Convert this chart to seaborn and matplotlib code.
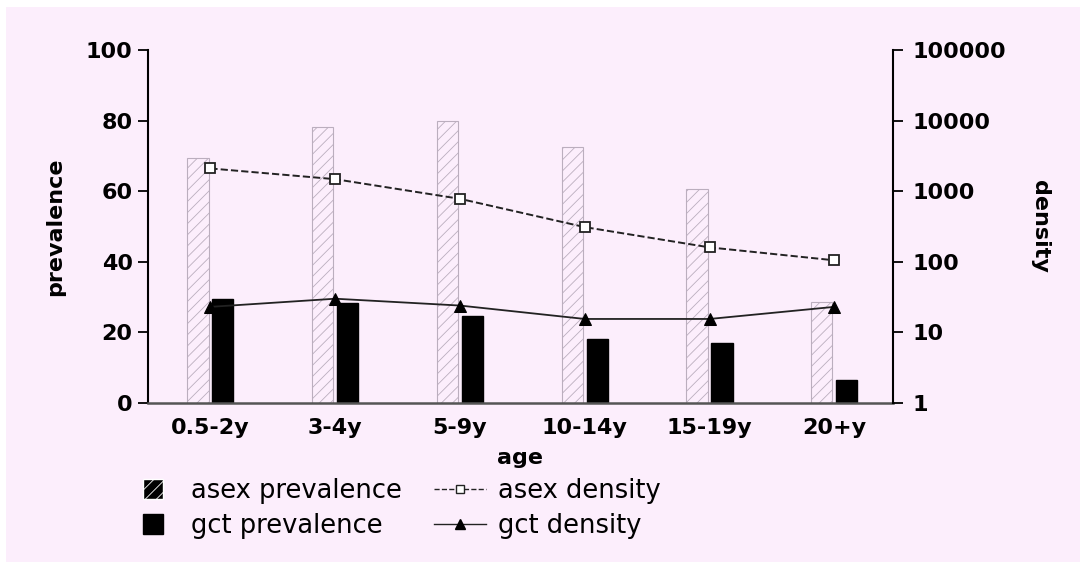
import numpy as np
import pandas as pd
import matplotlib
matplotlib.use("Agg")
import matplotlib.pyplot as plt
import seaborn as sns
from matplotlib.patches import Rectangle, Patch
from matplotlib.lines import Line2D
from matplotlib.legend_handler import HandlerPatch
from matplotlib.ticker import FixedLocator, NullLocator

# ---- data ----
ages = ["0.5-2y", "3-4y", "5-9y", "10-14y", "15-19y", "20+y"]
asex_prevalence = [69.3, 78.2, 80.0, 72.4, 60.5, 28.7]
gct_prevalence = [29.4, 28.4, 24.6, 18.0, 16.9, 6.5]
asex_density = [2100, 1480, 780, 310, 160, 105]
gct_density = [23, 30, 24, 15.5, 15.5, 23]
left_ticks = [0, 20, 40, 60, 80, 100]
right_ticks = [1, 10, 100, 1000, 10000, 100000]
right_tick_labels = ["1", "10", "100", "1000", "10000", "100000"]
series_names = ["asex prevalence", "gct prevalence"]

PINK = "#FCEEFC"
plt.rcParams["hatch.linewidth"] = 0.6
plt.rcParams["font.family"] = ["DejaVu Sans"]

df = pd.DataFrame({
    "age": ages * 2,
    "prevalence": asex_prevalence + gct_prevalence,
    "series": [series_names[0]] * len(ages) + [series_names[1]] * len(ages),
})

fig = plt.figure(figsize=(10.8, 5.62), dpi=100)
fig.patch.set_facecolor("white")
fig.add_artist(Rectangle((6 / 1080, 0), 1, 1 - 7 / 562, transform=fig.transFigure,
                         facecolor=PINK, edgecolor="none", zorder=-10))

ax = fig.add_axes([148 / 1080, 1 - 403 / 562, 745 / 1080, 353 / 562])
ax.set_facecolor("none")

sns.barplot(data=df, x="age", y="prevalence", hue="series", order=ages,
            hue_order=series_names, palette={series_names[0]: PINK, series_names[1]: "black"},
            saturation=1, width=0.4, gap=0.15, errorbar=None, legend=False, ax=ax)

for p in ax.containers[0]:
    p.set_hatch("///")
    p.set_edgecolor("#BBAEBE")
    p.set_linewidth(0.8)
for p in ax.containers[1]:
    p.set_edgecolor("black")

ax.set_xlim(-0.5, 5.47)
ax.set_ylim(0, 100)
ax.yaxis.set_major_locator(FixedLocator(left_ticks))
ax.set_yticklabels([str(t) for t in left_ticks])
for s in ["top", "right"]:
    ax.spines[s].set_visible(False)
ax.spines["left"].set_linewidth(1.5)
ax.spines["bottom"].set_linewidth(1.8)
ax.spines["bottom"].set_color("#555555")
ax.tick_params(axis="x", length=0, pad=11, labelsize=16)
ax.tick_params(axis="y", length=7, width=1.3, pad=4, labelsize=16)
for lbl in ax.get_xticklabels() + ax.get_yticklabels():
    lbl.set_fontweight("bold")
ax.set_xlabel("age", fontsize=16, fontweight="bold", labelpad=7)
ax.set_ylabel("prevalence", fontsize=16, fontweight="bold", labelpad=15)

ax2 = ax.twinx()
ax2.set_facecolor("none")
x_pos = np.arange(len(ages))
sns.lineplot(x=x_pos, y=asex_density, ax=ax2, color="#222222", linestyle="--", lw=1.4,
             marker="s", markersize=7, markerfacecolor="white", markeredgecolor="#222222",
             markeredgewidth=1.3, sort=False)
sns.lineplot(x=x_pos, y=gct_density, ax=ax2, color="#222222", linestyle="-", lw=1.3,
             marker="^", markersize=8, markerfacecolor="black", markeredgecolor="black",
             sort=False)
ax2.set_yscale("log")
ax2.set_ylim(1, 1e5)
ax2.set_xlim(-0.5, 5.47)
ax2.yaxis.set_major_locator(FixedLocator(right_ticks))
ax2.yaxis.set_minor_locator(NullLocator())
ax2.set_yticklabels(right_tick_labels)
for s in ["top", "left", "bottom"]:
    ax2.spines[s].set_visible(False)
ax2.spines["right"].set_linewidth(1.5)
ax2.tick_params(axis="y", which="major", length=7, width=1.3, pad=7, labelsize=16)
for lbl in ax2.get_yticklabels():
    lbl.set_fontweight("bold")
ax2.set_ylabel("density", fontsize=16, fontweight="bold", rotation=270, va="bottom", labelpad=17)


def square_patch(legend, orig_handle, xdescent, ydescent, width, height, fontsize):
    s = 14.4
    cx = -xdescent + width / 2
    cy = -ydescent + height / 2
    return Rectangle((cx - s / 2, cy - s / 2), s, s)


handles = [
    Patch(facecolor="black", edgecolor="white", hatch="///", label="asex prevalence"),
    Patch(facecolor="black", edgecolor="black", label="gct prevalence"),
    Line2D([], [], color="#222222", ls="--", lw=1, marker="s", markersize=6,
           markerfacecolor="white", markeredgecolor="#222222", label="asex density"),
    Line2D([], [], color="#222222", ls="-", lw=1, marker="^", markersize=7,
           markerfacecolor="black", markeredgecolor="black", label="gct density"),
]
fig.legend(handles=handles, loc="upper left", bbox_to_anchor=(127 / 1080, 1 - 478 / 562),
           ncol=2, frameon=False, fontsize=18.5, handlelength=2.02, handletextpad=0.47,
           columnspacing=1.25, labelspacing=0.35, borderpad=0, borderaxespad=0,
           handler_map={Patch: HandlerPatch(patch_func=square_patch)})

fig.savefig("out.png", dpi=100, facecolor=fig.get_facecolor())
